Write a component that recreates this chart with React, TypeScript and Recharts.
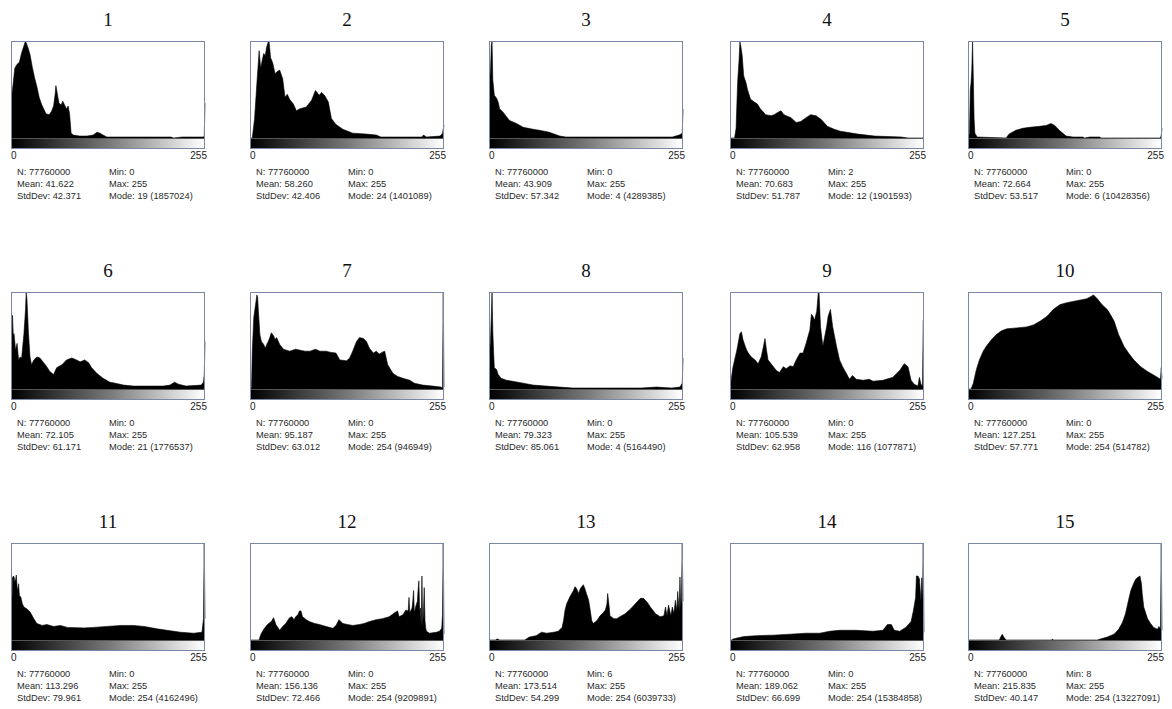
import React from "react";
import { AreaChart, Area, XAxis, YAxis } from "recharts";

// histogram outlines as [grey level, height in % of the plot]
const h1 = [[0, 40], [2, 50], [5, 72], [8, 76], [11, 78], [14, 88], [17, 95], [19, 100], [22, 94], [25, 86], [28, 73], [31, 62], [34, 53], [37, 42], [40, 35], [43, 30], [46, 25], [50, 24], [53, 27], [56, 33], [58, 45], [59, 54], [61, 45], [63, 36], [66, 34], [68, 38], [71, 33], [73, 30], [75, 33], [77, 25], [79, 5], [82, 3], [90, 2], [100, 2], [108, 3], [113, 6], [117, 5], [121, 3], [126, 1], [150, 1], [210, 1], [214, 0], [225, 1], [253, 1], [254, 2], [255, 36]];
const h2 = [[0, 0], [3, 0], [6, 20], [9, 56], [12, 90], [14, 72], [16, 80], [18, 87], [20, 85], [22, 94], [24, 99], [25, 100], [27, 83], [30, 77], [33, 66], [35, 68], [39, 70], [43, 61], [46, 42], [49, 45], [52, 40], [57, 35], [61, 28], [65, 30], [74, 32], [81, 39], [86, 49], [91, 44], [94, 47], [98, 44], [103, 37], [107, 20], [113, 14], [122, 9], [135, 5], [153, 4], [166, 3], [172, 1], [200, 1], [226, 1], [228, 3], [232, 1], [250, 2], [253, 5], [255, 13]];
const h3 = [[0, 30], [1, 62], [2, 69], [3, 95], [4, 100], [5, 60], [7, 44], [10, 41], [12, 37], [14, 30], [18, 27], [23, 22], [27, 18], [36, 15], [45, 11], [58, 9], [66, 8], [79, 6], [93, 2], [101, 1], [180, 1], [241, 1], [250, 3], [254, 5], [255, 30]];
const h4 = [[0, 0], [6, 0], [8, 10], [10, 57], [12, 82], [13, 99], [14, 96], [16, 85], [18, 64], [21, 57], [23, 50], [27, 40], [32, 37], [36, 35], [40, 30], [47, 24], [54, 23], [58, 24], [62, 26], [67, 28], [71, 24], [80, 21], [87, 16], [93, 17], [100, 21], [106, 24], [113, 23], [120, 19], [128, 12], [137, 9], [145, 7], [168, 4], [190, 2], [225, 1], [234, 0], [255, 0]];
const h5 = [[0, 0], [2, 5], [3, 50], [4, 57], [5, 70], [6, 100], [7, 62], [8, 20], [9, 5], [12, 1], [50, 0], [54, 4], [63, 8], [72, 10], [81, 11], [94, 12], [103, 13], [109, 15], [114, 13], [120, 8], [129, 2], [138, 1], [151, 1], [153, 0], [160, 1], [173, 1], [175, 0], [253, 0], [254, 3], [255, 10]];
const h6 = [[0, 10], [1, 47], [2, 76], [3, 55], [4, 57], [6, 40], [8, 47], [10, 30], [12, 33], [14, 32], [17, 57], [19, 81], [20, 100], [21, 92], [23, 57], [25, 33], [27, 25], [30, 30], [34, 33], [38, 32], [43, 27], [47, 23], [51, 18], [56, 15], [60, 22], [67, 25], [73, 30], [80, 32], [86, 30], [91, 28], [97, 30], [102, 27], [106, 22], [113, 16], [121, 11], [130, 7], [137, 6], [148, 4], [161, 3], [178, 3], [187, 3], [200, 3], [209, 4], [215, 7], [220, 5], [230, 3], [250, 4], [253, 7], [254, 15], [255, 49]];
const h7 = [[0, 0], [2, 1], [3, 39], [5, 74], [8, 91], [9, 97], [10, 95], [11, 81], [13, 56], [15, 49], [18, 46], [20, 42], [22, 46], [24, 49], [26, 53], [28, 58], [31, 55], [33, 51], [35, 53], [39, 46], [44, 41], [52, 39], [60, 41], [66, 40], [72, 39], [79, 39], [86, 41], [92, 39], [100, 39], [105, 38], [113, 37], [118, 30], [127, 29], [131, 32], [135, 39], [140, 49], [144, 53], [149, 52], [153, 49], [157, 42], [162, 37], [166, 39], [170, 36], [174, 38], [177, 39], [181, 25], [188, 16], [194, 13], [201, 11], [210, 9], [216, 6], [227, 4], [240, 3], [251, 2], [253, 1], [254, 100], [255, 2]];
const h8 = [[0, 20], [1, 39], [2, 50], [3, 74], [4, 100], [5, 60], [6, 39], [7, 22], [10, 20], [12, 15], [16, 11], [23, 9], [31, 8], [45, 6], [58, 4], [75, 3], [110, 1], [160, 1], [200, 1], [220, 2], [240, 1], [251, 2], [254, 6], [255, 32]];
const h9 = [[0, 0], [1, 5], [2, 12], [4, 23], [9, 40], [13, 57], [15, 59], [17, 51], [20, 44], [22, 40], [24, 37], [28, 33], [33, 30], [37, 26], [41, 33], [44, 44], [46, 52], [48, 40], [50, 30], [52, 28], [57, 23], [61, 19], [65, 17], [70, 23], [74, 21], [79, 24], [83, 23], [87, 30], [92, 37], [96, 37], [100, 47], [105, 61], [107, 77], [109, 75], [111, 71], [114, 80], [116, 99], [117, 100], [119, 64], [122, 44], [127, 64], [129, 75], [132, 82], [135, 64], [140, 44], [144, 30], [148, 23], [153, 16], [157, 10], [161, 14], [166, 10], [175, 9], [183, 10], [188, 8], [201, 9], [214, 12], [223, 19], [229, 26], [234, 23], [238, 9], [242, 5], [247, 3], [249, 12], [251, 5], [253, 3], [254, 71], [255, 71]];
const h10 = [[0, 0], [4, 0], [7, 6], [11, 20], [15, 30], [20, 39], [24, 44], [31, 51], [37, 56], [44, 60], [51, 62], [64, 63], [77, 64], [86, 66], [95, 70], [104, 75], [112, 82], [121, 87], [130, 89], [143, 91], [156, 93], [163, 96], [165, 97], [170, 93], [176, 87], [183, 82], [187, 77], [192, 70], [198, 56], [205, 44], [211, 37], [218, 30], [227, 23], [236, 18], [245, 14], [251, 11], [253, 10], [254, 22], [255, 11]];
const h11 = [[0, 5], [1, 30], [2, 64], [3, 66], [4, 65], [5, 60], [6, 62], [7, 67], [8, 55], [9, 51], [10, 58], [11, 46], [13, 44], [15, 37], [17, 34], [21, 32], [25, 29], [30, 22], [34, 17], [41, 15], [47, 16], [56, 14], [65, 15], [74, 13], [96, 12.5], [109, 13], [126, 14], [144, 15], [161, 15], [175, 14], [192, 11.5], [205, 10], [223, 8], [240, 7], [251, 8], [253, 22], [254, 100], [255, 22]];
const h12 = [[0, 0], [12, 0], [13, 3], [15, 7], [19, 12], [23, 16], [28, 19], [31, 23], [34, 16], [39, 10], [43, 14], [47, 17], [52, 23], [55, 24], [58, 21], [60, 24], [63, 26], [65, 30], [67, 30], [69, 24], [74, 21], [78, 19], [85, 17], [91, 16], [100, 14], [109, 12], [113, 15], [117, 21], [122, 17], [128, 16], [135, 15], [144, 16], [150, 17], [157, 19], [166, 21], [174, 22], [183, 24], [190, 28], [194, 30], [196, 24], [201, 26], [205, 31], [207, 30], [208, 31], [209, 44], [210, 28], [213, 33], [214, 40], [215, 51], [216, 28], [218, 35], [220, 40], [221, 52], [222, 61], [223, 30], [224, 33], [225, 14], [226, 66], [227, 14], [228, 30], [229, 54], [230, 20], [231, 12], [232, 9], [236, 7], [245, 8], [249, 9], [252, 12], [253, 26], [254, 100], [255, 6]];
const h13 = [[0, 0], [9, 0], [10, 1], [12, 1], [13, 0], [47, 0], [49, 1], [53, 3], [62, 4.5], [69, 8], [76, 7], [85, 8], [91, 9], [96, 13], [98, 20], [100, 31], [102, 37], [106, 44], [111, 51], [113, 55], [115, 53], [118, 48], [120, 53], [124, 57], [126, 53], [128, 48], [131, 41], [133, 31], [135, 20], [137, 17], [142, 20], [146, 25], [150, 28], [153, 31], [155, 37], [156, 48], [158, 34], [159, 25], [164, 22], [168, 22], [172, 24], [179, 27], [186, 32], [192, 37], [199, 43], [203, 43], [208, 39], [212, 34], [219, 27], [225, 24], [230, 25], [232, 34], [234, 25], [236, 36], [239, 25], [241, 34], [243, 27], [245, 41], [247, 30], [248, 50], [250, 30], [251, 65], [252, 34], [253, 44], [254, 100], [255, 40]];
const h14 = [[0, 0], [2, 0], [4, 1], [11, 2.4], [18, 3.5], [35, 4.5], [57, 5], [79, 6], [100, 7], [118, 7], [131, 9], [144, 10], [166, 10], [188, 9], [201, 10], [207, 16], [212, 16], [216, 10], [223, 9], [231, 13], [238, 19], [241, 30], [244, 44], [245, 66], [247, 66], [249, 63], [251, 40], [252, 64], [253, 37], [254, 100], [255, 8]];
const h15 = [[0, 0], [41, 0], [43, 3], [45, 6], [47, 3], [50, 0], [110, 0], [111, 1], [112, 0], [170, 0], [174, 1], [183, 3], [192, 6], [198, 11], [203, 18], [207, 27], [211, 41], [214, 51], [217, 57], [220, 62], [222, 64], [224, 65], [226, 66], [228, 58], [229, 48], [231, 34], [236, 22], [240, 17], [244, 13], [249, 11], [251, 14], [253, 11], [254, 100], [255, 10]];

const histograms = [h1, h2, h3, h4, h5, h6, h7, h8, h9, h10, h11, h12, h13, h14, h15];

const titles = ["1", "2", "3", "4", "5", "6", "7", "8", "9", "10", "11", "12", "13", "14", "15"];
const counts = Array(15).fill("77760000");
const means = ["41.622", "58.260", "43.909", "70.683", "72.664", "72.105", "95.187", "79.323", "105.539", "127.251", "113.296", "156.136", "173.514", "189.062", "215.835"];
const stdDevs = ["42.371", "42.406", "57.342", "51.787", "53.517", "61.171", "63.012", "85.061", "62.958", "57.771", "79.961", "72.466", "54.299", "66.699", "40.147"];
const mins = ["0", "0", "0", "2", "0", "0", "0", "0", "0", "0", "0", "0", "6", "0", "8"];
const maxs = Array(15).fill("255");
const modes = ["19 (1857024)", "24 (1401089)", "4 (4289385)", "12 (1901593)", "6 (10428356)", "21 (1776537)", "254 (946949)", "4 (5164490)", "116 (1077871)", "254 (514782)", "254 (4162496)", "254 (9209891)", "254 (6039733)", "254 (15384858)", "254 (13227091)"];
const axisTicks = [0, 255];

const colLeft = [11, 250, 489, 730, 968];
const rowTop = [41, 292, 543];
const W = 194;
const PLOT_H = 97;
const BAR_H = 11;
const PAD_R = 14;

const sans = "'Liberation Sans', Arial, sans-serif";
const frameColor = "#7b87a6";

function EndTick(props: any) {
  const { x, y, payload } = props;
  const anchor = payload.value === 0 ? "start" : "end";
  const dx = payload.value === 0 ? 0 : 2;
  return (
    <text x={x + dx} y={y + BAR_H + 10} textAnchor={anchor} fontSize={10} fontFamily={sans} fill="#222">
      {payload.value}
    </text>
  );
}

function Panel({ i }: { i: number }) {
  const left = colLeft[i % 5];
  const top = rowTop[Math.floor(i / 5)];
  const data = histograms[i].map(([x, y]) => ({ x, y }));
  const line = { position: "absolute" as const, fontFamily: sans, fontSize: 9.3, color: "#2a2a2a", whiteSpace: "nowrap" as const, lineHeight: "12px" };

  return (
    <>
      <div style={{ position: "absolute", left, top: top - 33, width: W, textAlign: "center", fontFamily: "'Liberation Serif', 'DejaVu Serif', serif", fontSize: 19, lineHeight: "24px", color: "#111" }}>
        {titles[i]}
      </div>
      <div style={{ position: "absolute", left, top }}>
        <AreaChart width={W + PAD_R} height={PLOT_H + 28} data={data} margin={{ top: 0, right: PAD_R, left: 0, bottom: 0 }}>
          <XAxis dataKey="x" type="number" domain={[0, 255]} ticks={axisTicks} height={28} axisLine={false} tickLine={false} tickSize={0} tickMargin={0} tick={<EndTick />} interval={0} />
          <YAxis hide domain={[0, 100]} allowDataOverflow />
          <Area dataKey="y" type="linear" fill="#000" fillOpacity={1} stroke="#000" strokeWidth={0.6} dot={false} activeDot={false} isAnimationActive={false} />
        </AreaChart>
      </div>
      <div style={{ position: "absolute", left, top: top + PLOT_H, width: W, height: BAR_H, boxSizing: "border-box", border: "1px solid #555", background: "linear-gradient(to right, #000 0%, #777 50%, #fff 100%)" }} />
      <div style={{ position: "absolute", left, top, width: W, height: PLOT_H + BAR_H, boxSizing: "border-box", border: `1px solid ${frameColor}`, pointerEvents: "none" }} />
      <div style={{ ...line, left: left + 6, top: top + 125 }}>
        <div>N: {counts[i]}</div>
        <div>Mean: {means[i]}</div>
        <div>StdDev: {stdDevs[i]}</div>
      </div>
      <div style={{ ...line, left: left + 98, top: top + 125 }}>
        <div>Min: {mins[i]}</div>
        <div>Max: {maxs[i]}</div>
        <div>Mode: {modes[i]}</div>
      </div>
    </>
  );
}

export default function App() {
  return (
    <div style={{ position: "absolute", left: 0, top: 0, width: 1172, height: 709, background: "#fff", overflow: "hidden" }}>
      {titles.map((_, i) => (
        <Panel key={i} i={i} />
      ))}
    </div>
  );
}
